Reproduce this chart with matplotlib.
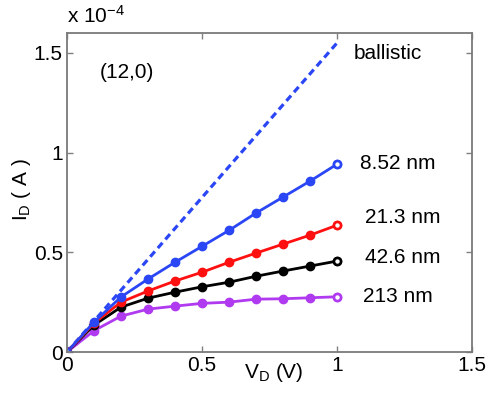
import numpy as np
import matplotlib.pyplot as plt

plt.rcParams['font.family'] = ['Liberation Sans', 'DejaVu Sans']
plt.rcParams['mathtext.default'] = 'regular'
plt.rcParams['font.size'] = 15

# drain voltage (V) and drain current (units of 1e-4 A)
vd = [0.0, 0.1, 0.2, 0.3, 0.4, 0.5, 0.6, 0.7, 0.8, 0.9, 1.0]
i_ballistic = [0.0, 0.155, 0.31, 0.465, 0.62, 0.775, 0.93, 1.085, 1.24, 1.395, 1.55]
i_852 = [0.0, 0.15, 0.276, 0.366, 0.45, 0.53, 0.61, 0.697, 0.777, 0.857, 0.942]
i_213 = [0.0, 0.145, 0.25, 0.306, 0.356, 0.40, 0.45, 0.496, 0.541, 0.586, 0.636]
i_426 = [0.0, 0.135, 0.225, 0.27, 0.30, 0.327, 0.35, 0.38, 0.406, 0.431, 0.456]
i_2130 = [0.0, 0.107, 0.18, 0.215, 0.23, 0.244, 0.25, 0.265, 0.267, 0.272, 0.277]

series = [
    ('8.52 nm', i_852, '#2a46f5', 1.085, 0.947),
    ('21.3 nm', i_213, '#ff1010', 1.104, 0.677),
    ('42.6 nm', i_426, '#000000', 1.104, 0.476),
    ('213 nm', i_2130, '#b03af0', 1.096, 0.276),
]

fig = plt.figure(figsize=(4.91, 3.96), dpi=100)
ax = fig.add_axes([0.1365, 0.1111, 0.8248, 0.8056])

ax.plot(vd, i_ballistic, color='#2a46f5', lw=2.3, linestyle=(0, (2.2, 1.4)))
ax.text(1.06, 1.495, 'ballistic', va='center', ha='left')

for label, vals, col, tx, ty in series[::-1]:
    ax.plot(vd, vals, color=col, lw=2, marker='o', ms=6, mfc=col, mec=col)
for label, vals, col, tx, ty in series[::-1]:
    ax.plot([vd[0], vd[-1]], [vals[0], vals[-1]], ls='none', marker='o',
            ms=5, mfc='white', mec=col, mew=1.8)
    ax.text(tx, ty, label, va='center', ha='left')

ax.text(0.122, 1.40, '(12,0)', va='center', ha='left')

ax.set_xlim(0, 1.5)
ax.set_ylim(0, 1.6)
ax.set_xticks([0, 0.5, 1, 1.5])
ax.set_xticklabels(['0', '0.5', '1', '1.5'])
ax.set_yticks([0, 0.5, 1, 1.5])
ax.set_yticklabels(['0', '0.5', '1', '1.5'])
ax.tick_params(direction='in', length=4, width=1, color='#808080',
               top=True, right=True, pad=3)
for sp in ax.spines.values():
    sp.set_color('#7a7a7a')
    sp.set_linewidth(1.3)

ax.set_xlabel('V$_D$ (V)')
ax.xaxis.set_label_coords(0.511, -0.027)
ax.set_ylabel('I$_D$ ( A )')
ax.yaxis.set_label_coords(-0.083, 0.51)

ax.text(0.0, 1.02, 'x 10$^{-4}$', transform=ax.transAxes, va='bottom', ha='left')

fig.savefig('out.png', dpi=100)
